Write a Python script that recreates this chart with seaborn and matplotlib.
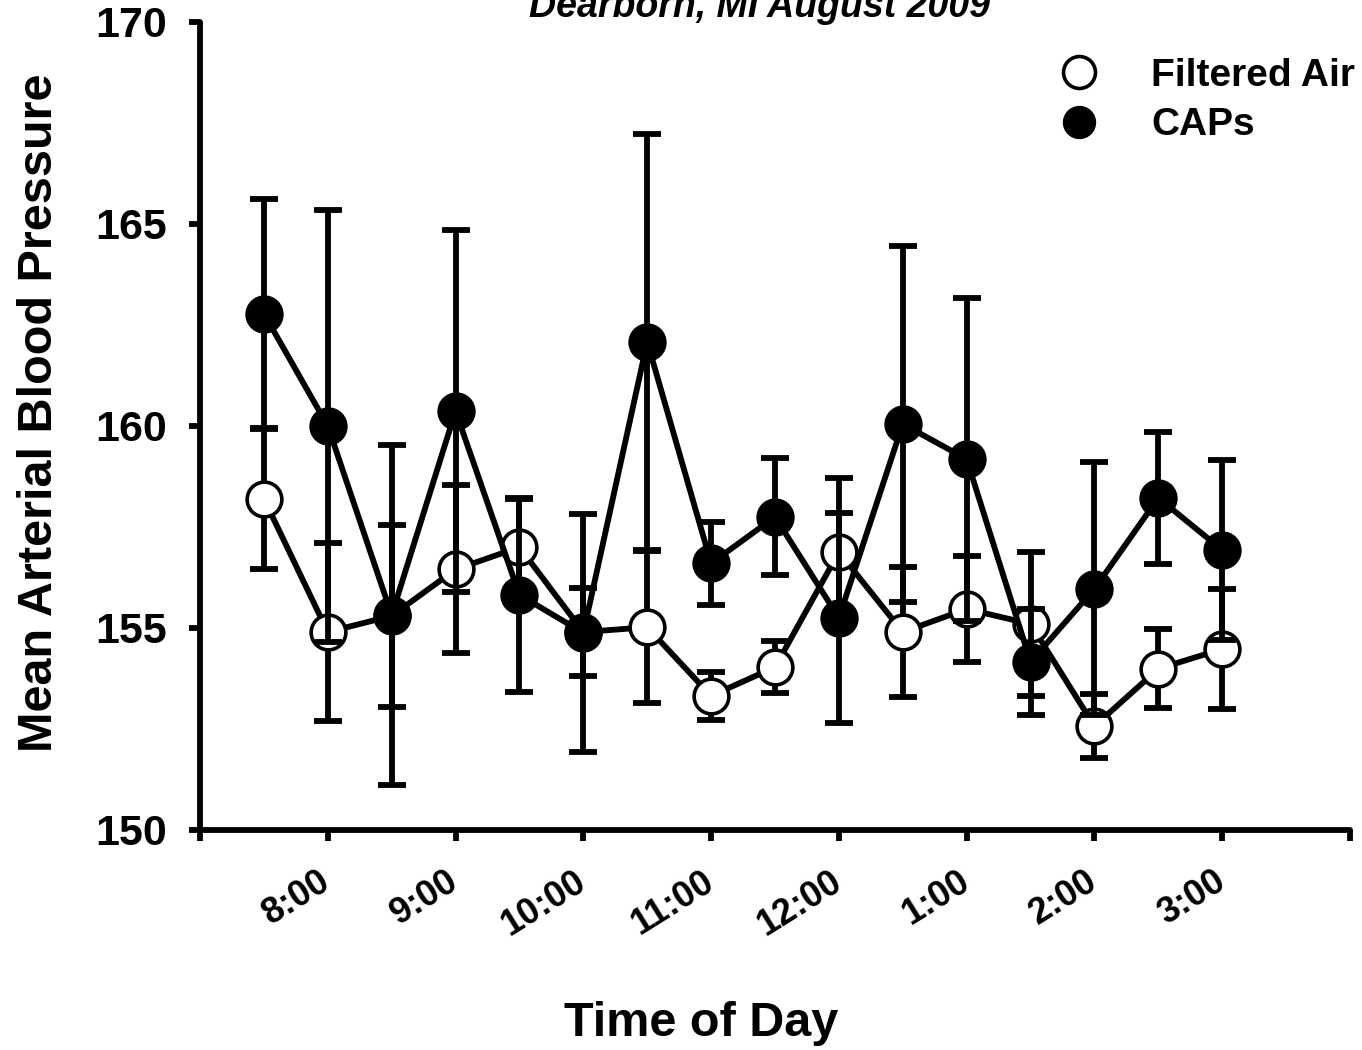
import matplotlib
matplotlib.use("Agg")
import matplotlib.pyplot as plt
from matplotlib.lines import Line2D
import seaborn as sns
import numpy as np

# ---- data ----
times = [7.5, 8.0, 8.5, 9.0, 9.5, 10.0, 10.5, 11.0, 11.5, 12.0, 12.5, 13.0, 13.5, 14.0, 14.5, 15.0]
tick_positions = [7, 8, 9, 10, 11, 12, 13, 14, 15, 16]
tick_labels = ["", "8:00", "9:00", "10:00", "11:00", "12:00", "1:00", "2:00", "3:00", ""]

filtered_air = [158.2, 154.9, 155.3, 156.45, 157.0, 154.9, 155.02, 153.32, 154.03, 156.88,
                154.9, 155.47, 155.1, 152.57, 153.99, 154.48]
filtered_err = [1.75, 2.2, 2.25, 2.08, 1.2, 1.1, 1.88, 0.6, 0.65, 1.83,
                1.6, 1.3, 1.78, 0.79, 0.98, 1.49]

caps = [162.78, 160.0, 155.32, 160.37, 155.82, 154.88, 162.08, 156.6, 157.75, 155.25,
        160.05, 159.18, 154.16, 155.97, 158.22, 156.93]
caps_err = [2.85, 5.35, 4.2, 4.48, 2.4, 2.94, 5.15, 1.02, 1.45, 2.6,
            4.4, 4.0, 1.31, 3.13, 1.64, 2.23]

y_ticks = [150, 155, 160, 165, 170]

sns.set_style("ticks")
plt.rcParams["font.family"] = ["Liberation Sans", "DejaVu Sans"]
plt.rcParams["font.weight"] = "bold"
for k in ["text.color", "axes.labelcolor", "xtick.color", "ytick.color", "axes.edgecolor"]:
    plt.rcParams[k] = "black"

fig = plt.figure(figsize=(13.62, 10.5), dpi=100)
ax = fig.add_axes([200 / 1362, 1 - 830 / 1050, 1150 / 1362, 808 / 1050])

lw = 4.2
ms = 25
# Filtered air
ax.errorbar(times, filtered_air, yerr=filtered_err, fmt="none", ecolor="black",
            elinewidth=lw, capsize=10, capthick=lw, zorder=2)
sns.lineplot(x=times, y=filtered_air, ax=ax, color="black", linewidth=lw,
             marker="o", markersize=ms, markerfacecolor="white",
             markeredgecolor="black", markeredgewidth=2.6, errorbar=None, zorder=3)
# CAPs
ax.errorbar(times, caps, yerr=caps_err, fmt="none", ecolor="black",
            elinewidth=lw, capsize=10, capthick=lw, zorder=4)
sns.lineplot(x=times, y=caps, ax=ax, color="black", linewidth=lw,
             marker="o", markersize=ms, markerfacecolor="black",
             markeredgecolor="black", markeredgewidth=2.6, errorbar=None, zorder=5)

ax.set_xlim(7, 16)
ax.set_ylim(150, 170)
ax.set_yticks(y_ticks)
ax.set_yticklabels([str(v) for v in y_ticks], fontsize=31, fontweight="bold")
ax.set_xticks(tick_positions)
ax.set_xticklabels(tick_labels, fontsize=26, fontweight="bold",
                   rotation=32, ha="right", va="center", rotation_mode="anchor")

for s in ["top", "right"]:
    ax.spines[s].set_visible(False)
for s in ["left", "bottom"]:
    ax.spines[s].set_linewidth(lw)
    ax.spines[s].set_capstyle("round")
ax.tick_params(axis="both", length=8, width=lw, color="black", direction="out")
ax.tick_params(axis="x", pad=27)
ax.tick_params(axis="y", pad=16)

ax.set_xlabel("Time of Day", fontsize=35, fontweight="bold")
ax.set_ylabel("Mean Arterial Blood Pressure", fontsize=35, fontweight="bold")
ax.xaxis.set_label_coords((701 - 200) / 1150, -0.212)
ax.yaxis.set_label_coords((62 - 200) / 1150, 0.517)

handles = [
    Line2D([], [], linestyle="none", marker="o", markersize=ms - 2, markerfacecolor="white",
           markeredgecolor="black", markeredgewidth=2.6, label="Filtered Air"),
    Line2D([], [], linestyle="none", marker="o", markersize=ms - 2, markerfacecolor="black",
           markeredgecolor="black", label="CAPs"),
]
leg = ax.legend(handles=handles, loc="upper right", bbox_to_anchor=(1.018, 0.975),
                frameon=False, prop={"size": 28, "weight": "bold"},
                handletextpad=1.1, labelspacing=0.35, borderaxespad=0.0,
                handlelength=1.5)

fig.text(760 / 1362, 1 - 17 / 1050, "Dearborn, MI August 2009", ha="center", va="baseline",
         fontsize=27, fontweight="bold", style="italic")

fig.savefig("out.png", dpi=100)
